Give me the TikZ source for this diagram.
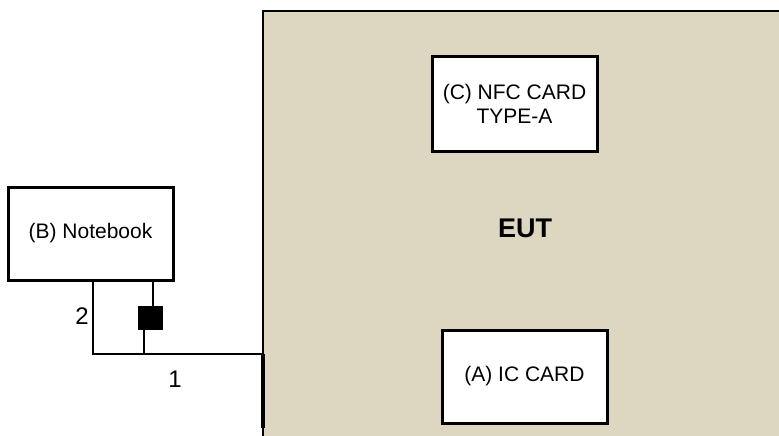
\documentclass[tikz,border=0pt]{standalone}
\usepackage{fontspec}
\setmainfont{Liberation Sans}
\usepackage{tikz}
\usetikzlibrary{calc, positioning}
\definecolor{eutfill}{RGB}{221,215,193}

\begin{document}
\begin{tikzpicture}[x = 1pt, y = -1pt,
        box/.style = {draw, line width = 3pt, fill = white, inner sep = 0pt,
            font = \fontsize{21}{24}\selectfont, align = center},
        cable/.style = {line width = 2.5pt},
        num/.style = {font = \fontsize{24}{28}\selectfont, inner sep = 0pt}]
        \useasboundingbox (0, 0) rectangle (779, 436);

        \node [draw, line width = 2.5pt, fill = eutfill, inner sep = 0pt,
            minimum width = 524pt, minimum height = 434pt,
            font = \fontsize{27}{30}\bfseries] (eut) at (525, 228) {EUT};

        \node [box, minimum width = 165pt, minimum height = 94pt] (nfc) at (514.5, 104) {(C) NFC CARD\\TYPE-A};
        \node [box, minimum width = 165pt, minimum height = 93pt] (ic) at (524.5, 376.5) {(A) IC CARD};
        \node [box, minimum width = 165pt, minimum height = 93pt] (nb) at (90.5, 233.5) {(B) Notebook};
        \node [draw, fill = black, minimum width = 24pt, minimum height = 23pt, inner sep = 0pt] (core) at (150, 317.5) {};

        \coordinate (j2) at (93, 354);
        \coordinate (jcore) at (144, 354);
        \coordinate (jeut) at (263, 354);
        \coordinate (cend) at (263, 428);
        \coordinate (ctop) at (153, 0);

        \draw [cable] (nb.south -| j2) -- (j2) -- (jeut);
        \draw [line width = 4.5pt] (jeut) -- (cend);
        \draw [cable] (nb.south -| ctop) -- (core.north -| ctop);
        \draw [cable] (core.south -| jcore) -- (jcore);

        \node [num] (l2) at (82, 316) {2};
        \node [num] (l1) at (175, 379) {1};
    \end{tikzpicture}
\end{document}
